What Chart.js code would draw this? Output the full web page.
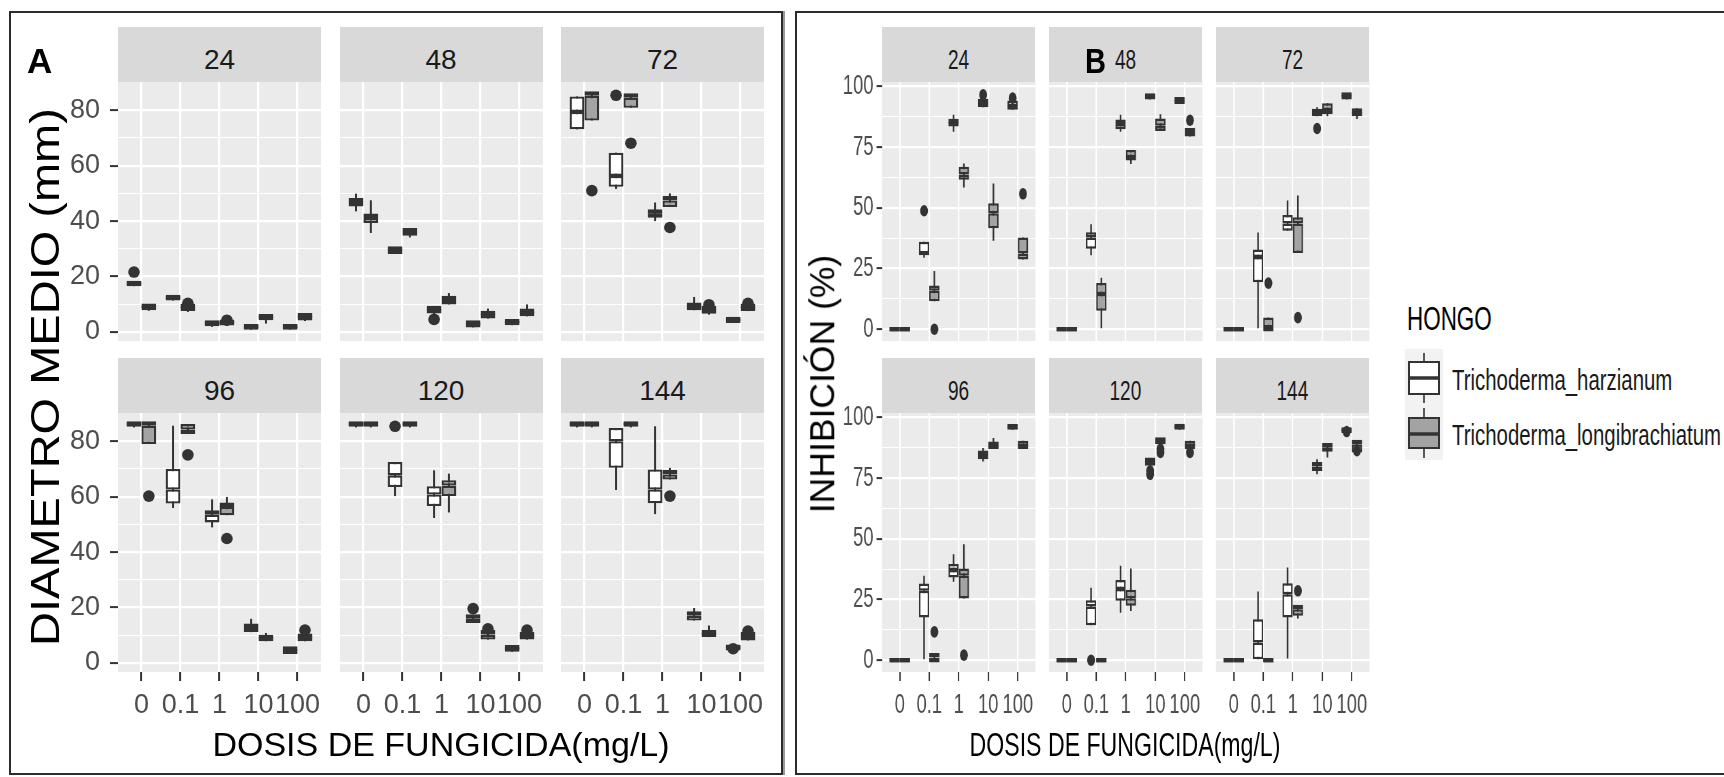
<!DOCTYPE html>
<html>
<head>
<meta charset="utf-8">
<script src="https://cdn.jsdelivr.net/npm/chart.js"></script>
<style>
  html, body { margin:0; padding:0; }
  body { width:1724px; height:777px; overflow:hidden; background:#ffffff; position:relative;
         font-family:'Liberation Sans', Arial, Helvetica, sans-serif; }
  .abs { position:absolute; white-space:nowrap; line-height:1; }
  .strip { position:absolute; background:#D9D9D9; height:55px; }
  .strip span { position:absolute; left:0; right:0; top:19px; text-align:center; font-size:28px; line-height:1; color:#1A1A1A; }
  .strip span i { font-style:normal; display:inline-block; }
</style>
</head>
<body>
<script>
// ---------------- categories / labels ----------------
const doseLabels = ['0', '0.1', '1', '10', '100'];
const timeLabels = ['24', '48', '72', '96', '120', '144'];
const fungusLabels = ['Trichoderma_harzianum', 'Trichoderma_longibrachiatum'];
const yMajorA = [0, 20, 40, 60, 80];
const yMinorA = [10, 30, 50, 70];
const yMajorB = [0, 25, 50, 75, 100];
const yMinorB = [12.5, 37.5, 62.5, 87.5];

// ---------------- Panel A: DIAMETRO MEDIO (mm) ----------------
// each row: [lower whisker, Q1, median, Q3, upper whisker] for doses 0, 0.1, 1, 10, 100
const A24_harz = [[16.5,16.5,16.8,17.5,17.5],[11.3,11.3,11.8,12.2,12.2],[1.8,2,2.6,3.5,3.6],[0.8,0.8,1.2,1.6,1.8],[0.8,0.8,1.2,1.6,1.8]];
const A24_harzOut = [[21.6],[],[],[],[]];
const A24_long = [[7.6,7.8,8.6,9.5,9.6],[7.2,7.5,8.5,9.5,9.5],[2.2,2.3,2.8,3.4,3.6],[3,4.2,4.8,5.4,5.4],[3.9,4.1,5.2,6.6,6.8]];
const A24_longOut = [[],[10.3],[4.2],[],[]];

const A48_harz = [[43.5,45.3,46.7,48.1,49.9],[28.1,28.1,29.3,30.3,30.3],[5.5,6.6,7.8,9,9],[1.6,1.6,2.6,3.6,3.6],[2.4,2.4,3,3.6,3.6]];
const A48_harzOut = [[],[],[4.5],[],[]];
const A48_long = [[35.7,39.3,41.1,42.5,47.5],[34.1,34.7,35.9,37.1,37.1],[9.9,9.9,11.4,12.6,14],[4.8,4.8,6,7.2,8.4],[5.6,5.6,6.8,8,9.9]];
const A48_longOut = [[],[],[],[],[]];

const A72_harz = [[73.1,73.1,79.4,85,85],[51.6,52.4,56.3,64.7,64.7],[40,41.2,42.6,44,46.7],[7.8,7.8,9,10.2,12.6],[3.2,3.2,3.8,4.4,4.4]];
const A72_harzOut = [[],[85.4],[],[],[]];
const A72_long = [[76.3,76.3,85.2,85.9,85.9],[80.9,80.9,84.5,85.4,85.4],[45.1,45.1,47.4,48.7,50],[6.2,6.5,7.8,9,9],[7.5,7.5,8.5,9.5,9.5]];
const A72_longOut = [[51],[68.1],[37.7],[9.8],[10.3]];

const A96_harz = [[85,85.2,85.6,86,86],[55.9,57.5,62.6,70,85.6],[48.9,50.7,53.5,55,59],[11.1,11.1,12.6,14,15.9],[3.2,3.2,4.4,5.6,5.6]];
const A96_harzOut = [[],[],[],[],[]];
const A96_long = [[79,79,85.6,86.2,86.2],[82.6,82.6,84.2,86.2,86.2],[53.3,53.3,56.3,57.8,59.9],[7.8,7.8,8.5,9.2,10.8],[7.8,7.8,9,10.5,10.8]];
const A96_longOut = [[60.2],[75.1],[44.9],[],[11.8]];

const A120_harz = [[85,85.2,85.6,86,86],[60.2,63.5,67.7,72.5,72.5],[52.3,56.6,60.8,63.8,69.5],[14.4,14.4,15.9,17.4,17.4],[4,4,4.8,5.6,5.6]];
const A120_harzOut = [[],[85.4],[],[19.6],[]];
const A120_long = [[85,85.2,85.6,86,86],[85,85.2,85.6,86,86],[54.3,60.2,64,65.9,68.3],[8.4,8.4,10.2,11.6,11.6],[8.4,8.4,9.6,10.8,11.2]];
const A120_longOut = [[],[],[],[12.3],[11.8]];

const A144_harz = [[85,85.2,85.6,86,86],[62.4,70.4,80,84.8,84.8],[53.7,57.6,62.6,69.8,85.4],[15.3,15.3,17,18.3,19.8],[4.3,4.5,5,5.5,5.7]];
const A144_harzOut = [[],[],[],[],[5.1]];
const A144_long = [[85,85.2,85.6,86,86],[85,85.2,85.6,86,86],[66.2,66.2,68,68.9,70.4],[9.3,9.3,10.2,11.1,13.5],[8.1,8.1,9.5,10.8,10.8]];
const A144_longOut = [[],[],[60.2],[],[11.5]];

// ---------------- Panel B: INHIBICIÓN (%) ----------------
const B24_harz = [[0,0,0,0.4,0.4],[29.4,30.5,31.2,36,36],[81.4,83.5,84.9,86.3,88.4],[91.4,91.4,93,94.9,95.5],[90.4,90.4,92,94.2,94.5]];
const B24_harzOut = [[],[48.8],[],[96.6],[95.2]];
const B24_long = [[0,0,0,0.4,0.4],[11.5,11.5,15.9,18,24],[58.4,61.6,63.7,66.9,68.3],[36.4,41.6,47.8,51.9,60],[28.7,28.7,31.2,37.8,37.8]];
const B24_longOut = [[],[0],[],[],[55.8]];

const B48_harz = [[0,0,0,0.4,0.4],[30.5,33.2,37.8,40,43.2],[81.4,82.4,84.5,86.3,88.4],[94.6,94.6,95.4,96.2,96.2],[92.8,92.8,93.8,94.9,94.9]];
const B48_harzOut = [[],[],[],[],[]];
const B48_long = [[0,0,0,0.4,0.4],[0.4,7.6,14.5,19,21.2],[68.1,69.5,71,73.8,73.8],[81.7,81.7,83.8,86.8,88.6],[79.4,79.4,81,82.1,82.1]];
const B48_longOut = [[],[],[],[],[86.1]];

const B72_harz = [[0,0,0,0.4,0.4],[0.4,19.4,29.8,32.8,39.9],[40.6,40.6,43.6,47.1,53],[87.7,87.7,89,90,91.4],[94.6,94.6,95.8,97,97]];
const B72_harzOut = [[],[],[],[82.7],[]];
const B72_long = [[0,0,0,0.4,0.4],[0,0,0.8,4.8,4.8],[31.4,31.4,43.6,46.1,55.1],[87.7,88.6,90.3,93.1,93.1],[86.6,87.7,89,91,91]];
const B72_longOut = [[],[19],[4.8],[],[]];

const B96_harz = [[0,0,0,0.4,0.4],[0.4,17.6,28.6,31.6,34.8],[32.3,34.1,37.2,39.6,43.7],[81.9,82.8,84.5,85.9,87.4],[94.9,94.9,95.5,95.9,95.9]];
const B96_harzOut = [[],[],[],[],[]];
const B96_long = [[0,0,0,0.4,0.4],[0,0,1.1,2.5,2.5],[25.4,25.4,34.8,37.8,47.8],[87,87,88.3,90,91.5],[87,87,88.3,90.4,90.4]];
const B96_longOut = [[],[11.7],[2.1],[],[]];

const B120_harz = [[0,0,0,0.4,0.4],[14.4,14.4,22.1,24.7,29.9],[19.6,24.5,29.3,33,38.9],[80.1,80.1,81.7,83.1,83.1],[94.9,94.9,95.6,96.3,96.3]];
const B120_harzOut = [[],[0],[],[76.6,78],[]];
const B120_long = [[0,0,0,0.4,0.4],[0,0,0,0.4,0.4],[20.3,22.4,25.5,29,37.8],[89,89,90,91.1,91.1],[87,87,88.3,90.4,90.4]];
const B120_longOut = [[],[],[],[85.6,87],[85.6]];

const B144_harz = [[0,0,0,0.4,0.4],[0,0,7.3,16.9,28.3],[0.7,17.6,27.2,31.7,38.2],[76.6,78,79.8,81.5,82.8],[93.5,93.5,94.1,94.8,94.8]];
const B144_harzOut = [[],[],[],[],[94.2]];
const B144_long = [[0,0,0,0.4,0.4],[0,0,0,0.4,0.4],[17.2,18.3,21,22.7,22.7],[83.5,85.9,87.6,89.4,89.4],[85.6,85.6,89,90.4,90.4]];
const B144_longOut = [[],[],[28.6],[],[86.3]];

// ---------------- styling / layout ----------------
const FONT = "'Liberation Sans', Arial, Helvetica, sans-serif";
const LINE = '#333333';
const GREY_FILL = '#A3A3A3';
const TICK_COLOR = '#4D4D4D';

const PANEL_A = {
  sx: 1, cols: [118, 339.5, 561], pw: 203, rows: [82, 413], ph: 259, stripTops: [27, 358],
  ymin: -3.3, ymax: 90.2, yMajor: yMajorA, yMinor: yMinorA,
  boxW: 0.38, lineW: 2.3, gridW: 2.2, whiskW: 2, ptR: 5.8, leftMargin: 70, yPad: 10, minLen: 4.5,
  facets: [
    [A24_harz, A24_long, A24_harzOut, A24_longOut],
    [A48_harz, A48_long, A48_harzOut, A48_longOut],
    [A72_harz, A72_long, A72_harzOut, A72_longOut],
    [A96_harz, A96_long, A96_harzOut, A96_longOut],
    [A120_harz, A120_long, A120_harzOut, A120_longOut],
    [A144_harz, A144_long, A144_harzOut, A144_longOut]
  ]
};
const PANEL_B = {
  sx: 0.68, cols: [881.5, 1048.5, 1215.5], pw: 153.5, rows: [82, 413], ph: 259, stripTops: [27, 358],
  ymin: -4.85, ymax: 101.85, yMajor: yMajorB, yMinor: yMinorB,
  boxW: 0.35, lineW: 2.5, gridW: 2.2, whiskW: 2.4, ptR: 5.8, leftMargin: 48, yPad: 4.5, minLen: 4.5,
  facets: [
    [B24_harz, B24_long, B24_harzOut, B24_longOut],
    [B48_harz, B48_long, B48_harzOut, B48_longOut],
    [B72_harz, B72_long, B72_harzOut, B72_longOut],
    [B96_harz, B96_long, B96_harzOut, B96_longOut],
    [B120_harz, B120_long, B120_harzOut, B120_longOut],
    [B144_harz, B144_long, B144_harzOut, B144_longOut]
  ]
};

const panelBg = {
  id: 'panelBg',
  beforeDraw(chart) {
    const a = chart.chartArea, ctx = chart.ctx;
    ctx.save();
    ctx.fillStyle = '#EBEBEB';
    ctx.fillRect(a.left, a.top, a.right - a.left, a.bottom - a.top);
    ctx.restore();
  }
};

function addEl(html) {
  const t = document.createElement('div');
  t.innerHTML = html;
  const el = t.firstElementChild;
  document.body.appendChild(el);
  return el;
}

function buildPanel(P) {
  const sx = P.sx;
  const yAll = P.yMajor.concat(P.yMinor).sort((a, b) => a - b);
  P.facets.forEach((f, fi) => {
    const [harz, longi, harzOut, longOut] = f;
    const col = fi % 3, row = Math.floor(fi / 3);
    const isLeft = col === 0, isBottom = row === 1;

    // strip with the facet label
    addEl(`<div class="strip" style="left:${P.cols[col]}px;top:${P.stripTops[row]}px;width:${P.pw}px;"><span><i style="transform:scaleX(${sx})">${timeLabels[fi]}</i></span></div>`);

    const LM = isLeft ? P.leftMargin : 10;
    const TM = 32, RM = 24, BM = isBottom ? 70 : 32;
    const leftF = P.cols[col] - LM;
    const topF = P.rows[row] - TM;
    const wInt = Math.ceil((LM + P.pw + RM) / sx);
    const h = TM + P.ph + BM;
    const lmInt = LM / sx, pwInt = P.pw / sx;

    const canvas = document.createElement('canvas');
    canvas.width = wInt; canvas.height = h;
    canvas.style.cssText = `position:absolute;left:${leftF}px;top:${topF}px;width:${wInt}px;height:${h}px;transform:scaleX(${sx});transform-origin:0 0;`;
    document.body.appendChild(canvas);

    const xmin = 0.4, xmax = doseLabels.length + 0.6;
    const unitInt = pwInt / (xmax - xmin);
    const chunk = unitInt * P.boxW;
    const whiskPct = Math.min(1, P.whiskW / chunk);

    const box = (stats, stack, color, order, part) => ({
      type: 'bar', stack, order,
      data: stats.map((s, i) => ({ x: i + 1, y: part === 'lower' ? [s[1], s[2]] : [s[2], s[3]] })),
      backgroundColor: color, borderColor: LINE, borderWidth: P.lineW, borderSkipped: false,
      categoryPercentage: 2 * P.boxW, barPercentage: 1, minBarLength: P.minLen
    });
    const whisk = (stats, stack, order) => ({
      type: 'bar', stack, order,
      data: stats.map((s, i) => ({ x: i + 1, y: [s[0], s[4]] })),
      backgroundColor: LINE, borderWidth: 0,
      categoryPercentage: 2 * P.boxW, barPercentage: whiskPct
    });
    const outl = (outs, dodge) => ({
      type: 'scatter', order: -1,
      data: outs.flatMap((arr, i) => arr.map(v => ({ x: i + 1 + dodge, y: v }))),
      pointRadius: P.ptR, pointBackgroundColor: LINE, pointBorderWidth: 0, showLine: false
    });

    new Chart(canvas.getContext('2d'), {
      type: 'bar',
      data: {
        datasets: [
          box(harz, 'h', '#FFFFFF', 0, 'lower'),
          box(harz, 'h', '#FFFFFF', 0, 'upper'),
          box(longi, 'l', GREY_FILL, 1, 'lower'),
          box(longi, 'l', GREY_FILL, 1, 'upper'),
          whisk(harz, 'h', 2),
          whisk(longi, 'l', 3),
          outl(harzOut, -P.boxW / 2),
          outl(longOut, P.boxW / 2)
        ]
      },
      options: {
        responsive: false, animation: false, events: [], devicePixelRatio: 1,
        layout: {
          autoPadding: false,
          padding: { left: isLeft ? 0 : lmInt, top: TM, right: wInt - lmInt - pwInt, bottom: isBottom ? 0 : BM }
        },
        plugins: { legend: { display: false }, tooltip: { enabled: false }, title: { display: false } },
        scales: {
          x: {
            type: 'linear', min: xmin, max: xmax, offset: false,
            afterBuildTicks: s => { s.ticks = doseLabels.map((_, i) => ({ value: i + 1 })); },
            afterFit: s => { s.height = isBottom ? BM : 0; },
            ticks: {
              display: isBottom, autoSkip: false, maxRotation: 0, minRotation: 0, padding: 8,
              color: TICK_COLOR, font: { family: FONT, size: 27 },
              callback: (v, i) => doseLabels[i]
            },
            grid: { offset: false, color: '#FFFFFF', lineWidth: P.gridW, drawTicks: isBottom,
                    tickLength: 9, tickColor: LINE, tickWidth: 2 },
            border: { display: false }
          },
          y: {
            type: 'linear', min: P.ymin, max: P.ymax, stacked: false, beginAtZero: false,
            afterBuildTicks: s => { s.ticks = yAll.map(v => ({ value: v })); },
            afterFit: s => { s.width = isLeft ? lmInt : 0; },
            ticks: {
              display: isLeft, autoSkip: false, padding: P.yPad,
              color: TICK_COLOR, font: { family: FONT, size: 27 },
              callback: v => (P.yMajor.includes(v) ? String(v) : '')
            },
            grid: {
              color: '#FFFFFF',
              lineWidth: c => (c.tick && P.yMajor.includes(c.tick.value)) ? P.gridW : P.gridW / 2,
              drawTicks: isLeft, tickLength: 8,
              tickColor: c => (c.tick && P.yMajor.includes(c.tick.value)) ? LINE : 'rgba(0,0,0,0)',
              tickWidth: 2
            },
            border: { display: false }
          }
        }
      },
      plugins: [panelBg]
    });
  });
}

// frames
addEl(`<div style="position:absolute;left:9px;top:11px;width:774px;height:764px;border:2px solid #2b2b2b;box-sizing:border-box;box-shadow:2px 0 0 #9a9a9a;"></div>`);
addEl(`<div style="position:absolute;left:795px;top:11px;width:1000px;height:764px;border:2px solid #2b2b2b;box-sizing:border-box;"></div>`);

buildPanel(PANEL_A);
buildPanel(PANEL_B);

// panel letters
addEl(`<div class="abs" style="left:27px;top:42.5px;font-size:35px;font-weight:bold;color:#000;">A</div>`);
addEl(`<div class="abs" style="left:1085px;top:42.5px;font-size:35px;font-weight:bold;color:#000;transform:scaleX(0.83);transform-origin:0 0;">B</div>`);

// axis titles
addEl(`<div class="abs" style="left:441px;top:727px;font-size:34px;color:#000;transform:translateX(-50%);">DOSIS DE FUNGICIDA(mg/L)</div>`);
addEl(`<div class="abs" style="left:1125px;top:727px;font-size:34px;color:#000;transform:translateX(-50%) scaleX(0.68);">DOSIS DE FUNGICIDA(mg/L)</div>`);
addEl(`<div class="abs" style="left:45px;top:377px;font-size:47px;color:#000;transform:translate(-50%,-50%) scaleX(0.86) rotate(-90deg);">DIAMETRO MEDIO (mm)</div>`);
addEl(`<div class="abs" style="left:823px;top:384px;font-size:35.5px;color:#000;transform:translate(-50%,-50%) rotate(-90deg);">INHIBICIÓN (%)</div>`);

// legend
addEl(`<div class="abs" style="left:1407px;top:302px;font-size:33px;color:#000;transform:scaleX(0.68);transform-origin:0 0;">HONGO</div>`);
addEl(`<svg style="position:absolute;left:1405px;top:349px" width="38" height="111" xmlns="http://www.w3.org/2000/svg">
  <rect x="0" y="0" width="38" height="111" fill="#F2F2F2"/>
  <line x1="19" y1="4" x2="19" y2="54" stroke="${LINE}" stroke-width="1.6"/>
  <rect x="4" y="13" width="30" height="32" fill="#FFFFFF" stroke="${LINE}" stroke-width="2"/>
  <line x1="4" y1="29" x2="34" y2="29" stroke="${LINE}" stroke-width="3.5"/>
  <line x1="19" y1="59" x2="19" y2="109" stroke="${LINE}" stroke-width="1.6"/>
  <rect x="4" y="69" width="30" height="30" fill="${GREY_FILL}" stroke="${LINE}" stroke-width="2"/>
  <line x1="4" y1="85" x2="34" y2="85" stroke="${LINE}" stroke-width="3.5"/>
</svg>`);
addEl(`<div class="abs" style="left:1452px;top:364.5px;font-size:30px;color:#1A1A1A;transform:scaleX(0.68);transform-origin:0 0;">${fungusLabels[0]}</div>`);
addEl(`<div class="abs" style="left:1452px;top:419.5px;font-size:30px;color:#1A1A1A;transform:scaleX(0.68);transform-origin:0 0;">${fungusLabels[1]}</div>`);
</script>
</body>
</html>
